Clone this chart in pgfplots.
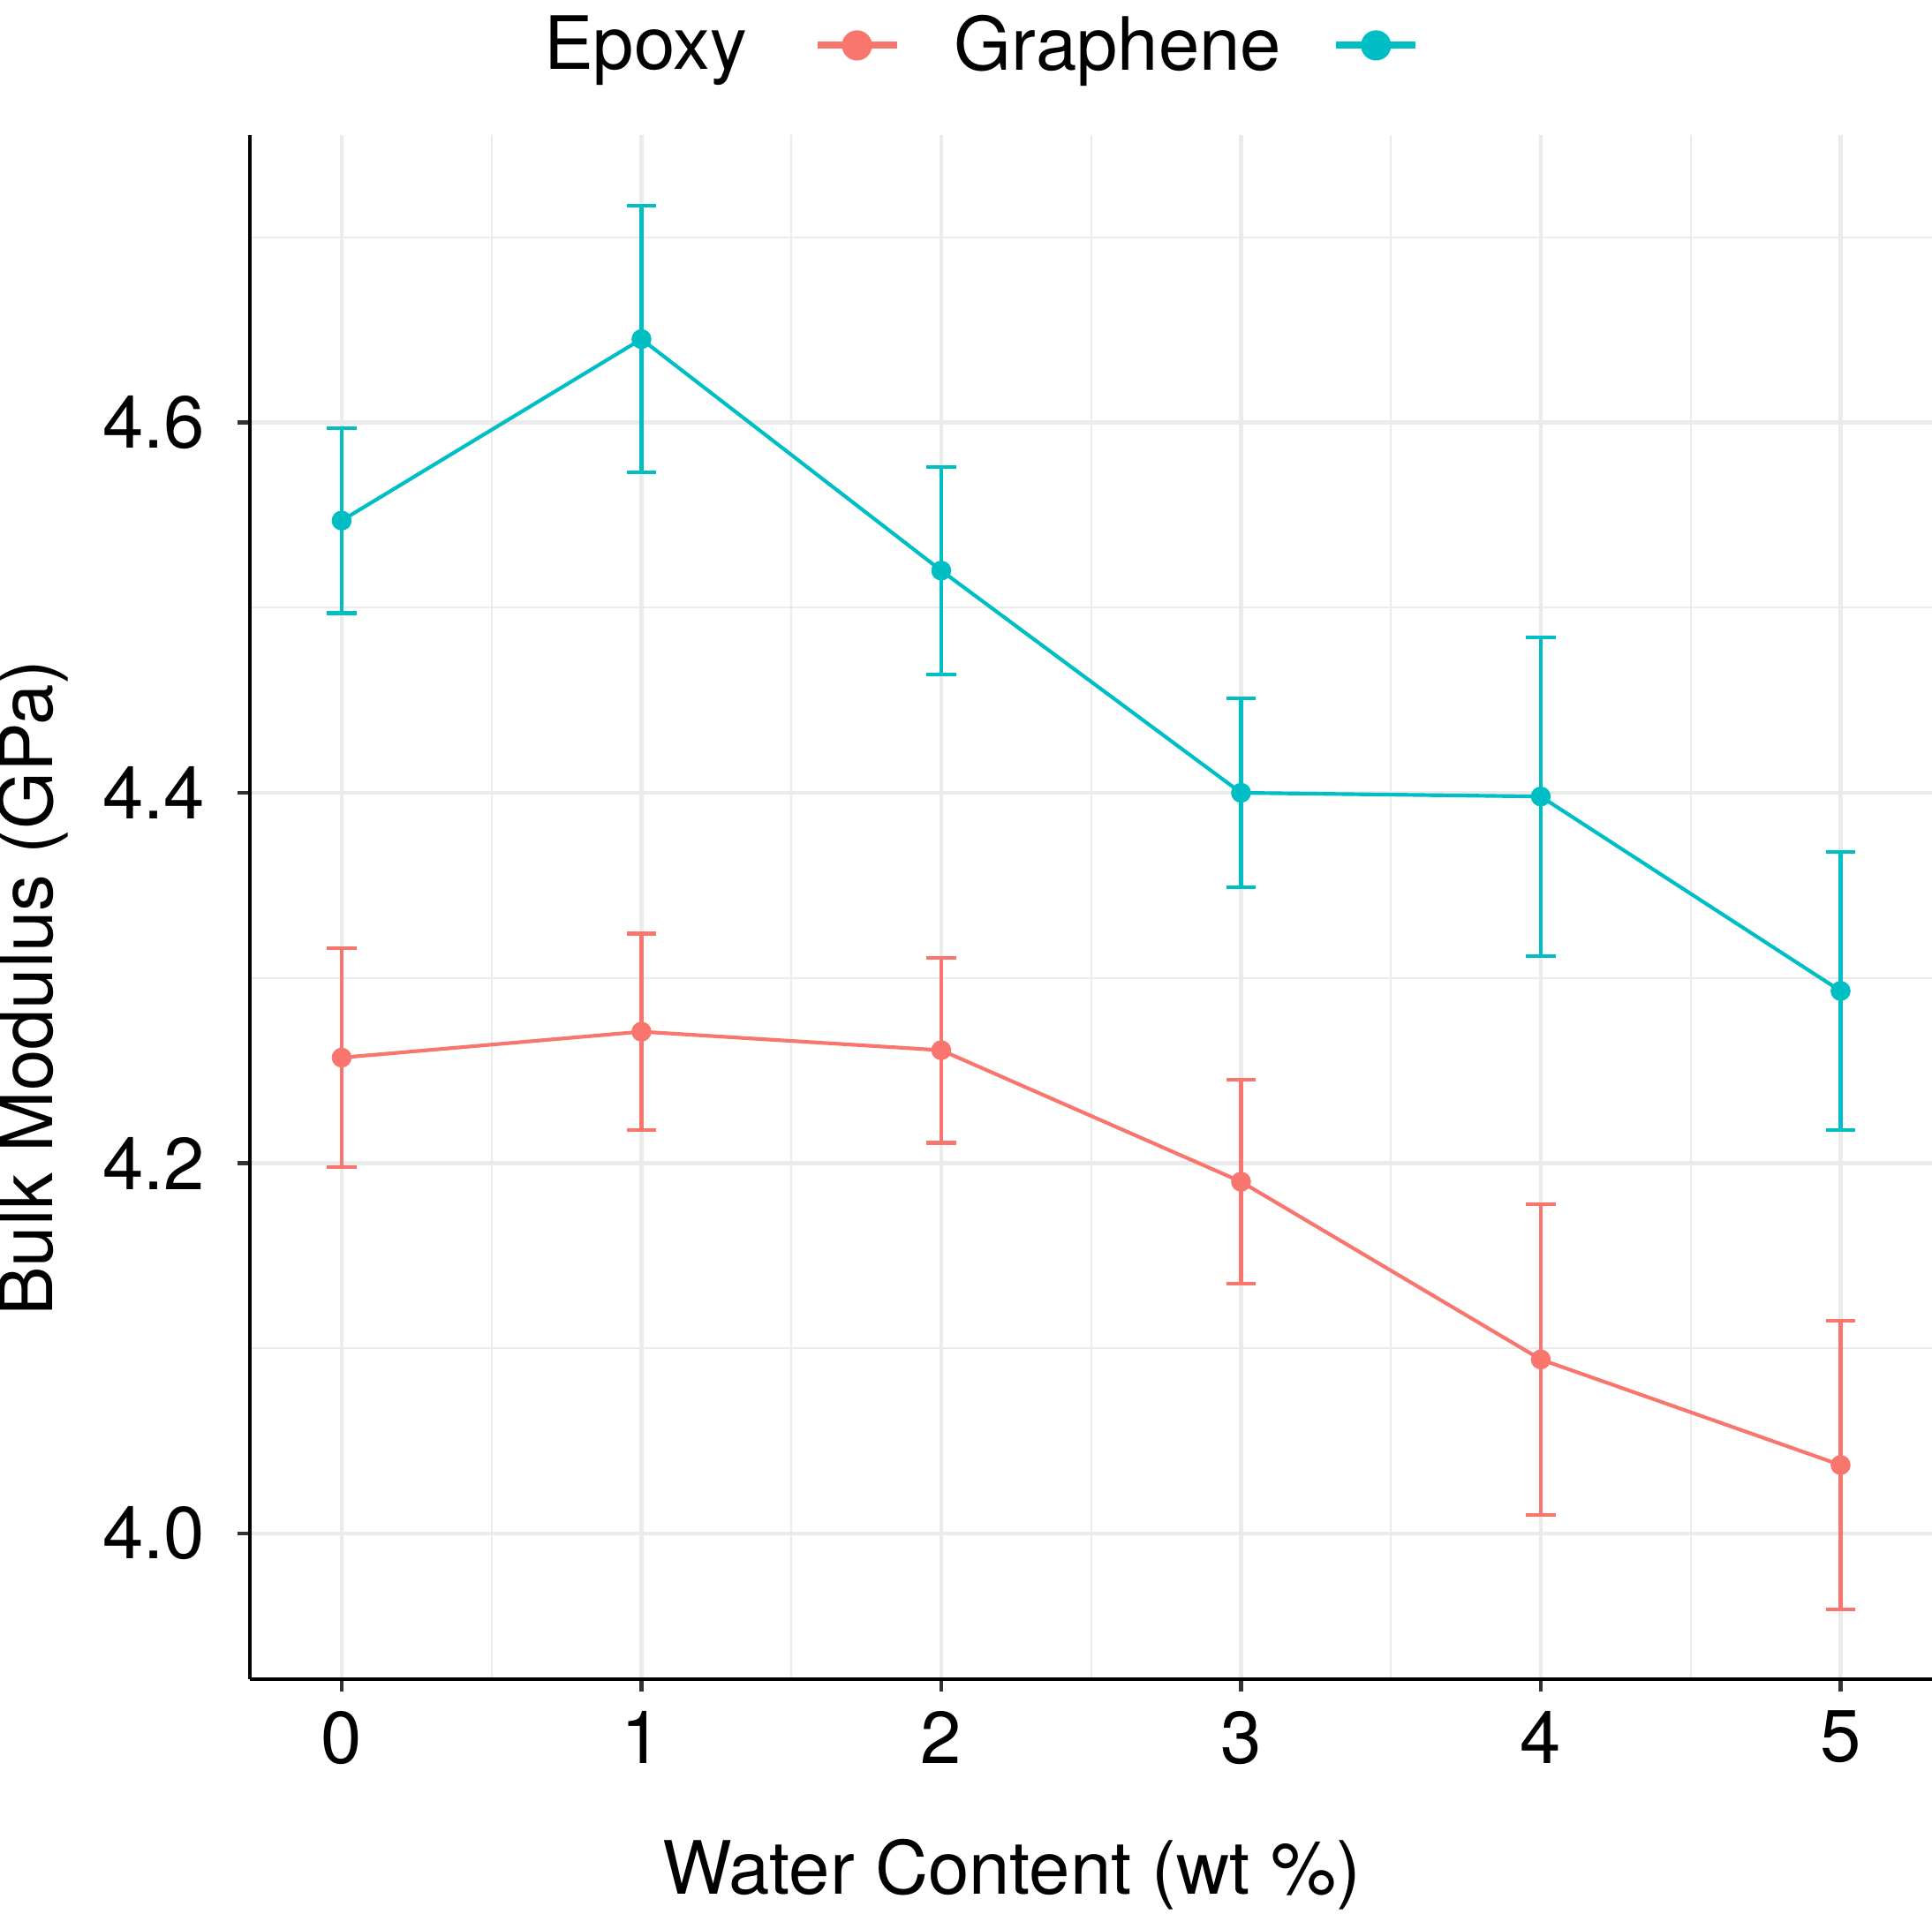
\documentclass[border=0pt]{standalone}
\usepackage{fontspec}
\setmainfont{TeX Gyre Heros}
\usepackage{pgfplots}
\usepackage{pgfplotstable}
\pgfplotsset{compat=1.18}
\definecolor{cEpoxy}{HTML}{F8766D}
\definecolor{cGraph}{HTML}{00BFC4}
\definecolor{gridc}{HTML}{EBEBEB}

\pgfplotstableread{
x y e
0 4.257 0.059
1 4.271 0.053
2 4.261 0.050
3 4.190 0.055
4 4.094 0.084
5 4.037 0.078
}\epoxy
\pgfplotstableread{
x y e
0 4.547 0.050
1 4.645 0.072
2 4.520 0.056
3 4.400 0.051
4 4.398 0.086
5 4.293 0.075
}\graphene

\begin{document}
\begin{tikzpicture}
\begin{axis}[
  width=457pt, height=419.5pt, scale only axis,
  xmin=-0.305, xmax=5.305, ymin=3.9215, ymax=4.755,
  axis x line*=bottom, axis y line*=left,
  axis line style={-, line width=1pt, black},
  xtick={0,1,2,3,4,5}, ytick={4.0,4.2,4.4,4.6},
  minor xtick={0.5,1.5,2.5,3.5,4.5}, minor ytick={4.1,4.3,4.5,4.7},
  grid=both,
  major grid style={gridc, line width=1pt},
  minor grid style={gridc, line width=0.55pt},
  tick align=outside, major tick length=3.5pt, minor tick length=0pt,
  tick style={black!80, line width=1pt},
  /pgf/number format/assume math mode=true,
  ticklabel style={font=\fontsize{20}{24}\selectfont},
  xticklabel style={anchor=north, inner sep=0pt, yshift=-5pt},
  yticklabel style={anchor=east, inner sep=0pt, xshift=-8.6pt,
    /pgf/number format/.cd, fixed, fixed zerofill, precision=1},
  xlabel={Water Content (wt \%)},
  ylabel={Bulk Modulus (GPa)},
  label style={font=\fontsize{20}{24}\selectfont, inner sep=0pt},
  xlabel style={at={(axis description cs:0.4527,0)}, anchor=center, yshift=-53.2pt},
  ylabel style={at={(axis description cs:-0.1292,0.4477)}, anchor=center},
  legend plot pos=right,
  legend columns=2,
  legend style={at={(axis description cs:0.1744,1.0583)}, anchor=west,
    draw=none, fill=none, inner sep=0pt, column sep=0pt,
    nodes={inner sep=0pt}, font=\fontsize{20}{24}\selectfont},
]
\addplot[cEpoxy, line width=1pt, mark=*, mark size=2.2pt,
  legend image code/.code={
    \draw[line width=1.9pt, cEpoxy] (0pt,0pt) -- (21.6pt,0pt);
    \fill[cEpoxy] (10.8pt,0pt) circle (3.6pt);
    \path (-18.6pt,0pt) (36.8pt,0pt);},
  error bars/.cd, y dir=both, y explicit,
  error bar style={line width=1pt, cEpoxy},
  error mark options={rotate=90, mark size=4pt, line width=1pt, cEpoxy}]
  table[x=x, y=y, y error=e] {\epoxy};
\addlegendentry{Epoxy}
\addplot[cGraph, line width=1pt, mark=*, mark size=2.2pt,
  legend image code/.code={
    \draw[line width=1.9pt, cGraph] (0pt,0pt) -- (21.6pt,0pt);
    \fill[cGraph] (10.8pt,0pt) circle (3.6pt);
    \path (-14.4pt,0pt) (21.6pt,0pt);},
  error bars/.cd, y dir=both, y explicit,
  error bar style={line width=1pt, cGraph},
  error mark options={rotate=90, mark size=4pt, line width=1pt, cGraph}]
  table[x=x, y=y, y error=e] {\graphene};
\addlegendentry{Graphene}
\coordinate (SW) at (rel axis cs:0,0);
\end{axis}
\pgfresetboundingbox
\path (SW) ++(-68pt,-63.7pt) rectangle ++(525pt,520pt);
\end{tikzpicture}
\end{document}
